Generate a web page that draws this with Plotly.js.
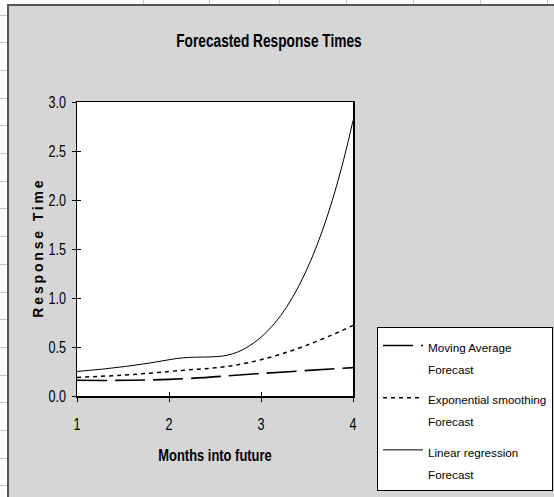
<!DOCTYPE html>
<html>
<head>
<meta charset="utf-8">
<script src="https://cdn.plot.ly/plotly-3.0.1.min.js"></script>
<style>
  html, body { margin: 0; padding: 0; background: #ffffff; }
  #sheet { position: absolute; left: 0; top: 0; width: 554px; height: 497px; overflow: hidden; background: #ffffff; }
  #rows { position: absolute; left: 0; top: 0; width: 7px; height: 497px;
          background: repeating-linear-gradient(to bottom, transparent 0px, transparent 14.5px, #c4c4c4 14.5px, #c4c4c4 15.5px, transparent 15.5px, transparent 27.7px); }
  #cols { position: absolute; left: 0; top: 0; width: 554px; height: 4px; }
  #frame { position: absolute; left: 7px; top: 4px; width: 547px; height: 493px; background: #d6d6d6;
           border-left: 2px solid #555555; border-top: 2px solid #555555; box-sizing: border-box; }
  #chart { position: absolute; left: 9px; top: 6px; width: 545px; height: 491px; }
</style>
</head>
<body>
<div id="sheet">
  <div id="rows"></div>
  <div id="cols"></div>
  <div id="frame"></div>
  <div id="chart"></div>
</div>
<script>
// spreadsheet column gridlines peeking above the chart
var colLines = [143, 209, 279, 346, 413, 480, 547];
var cols = document.getElementById('cols');
colLines.forEach(function (cx) {
  var d = document.createElement('div');
  d.style.cssText = 'position:absolute;top:0;width:1px;height:4px;background:#c4c4c4;left:' + cx + 'px';
  cols.appendChild(d);
});

// ---- data ----
var months = [1, 2, 3, 4];
var movingAverage = [0.16, 0.17, 0.23, 0.29];
var expSmoothing = [0.19, 0.25, 0.37, 0.72];
var linearRegression = [0.25, 0.37, 0.60, 2.81];
var xTicks = [1, 2, 3, 4];
var yTicks = [0, 0.5, 1, 1.5, 2, 2.5, 3];
var yTickText = ['0.0', '0.5', '1.0', '1.5', '2.0', '2.5', '3.0'];
var seriesNames = ['Moving Average<br>Forecast', 'Exponential smoothing<br>Forecast', 'Linear regression<br>Forecast'];

var sans = 'Liberation Sans, Arial, sans-serif';
var gray = '#d6d6d6';

// legend labels: glyphs at 11.7px while the legend line pitch follows the 17px legend font
function legendLabel(name) {
  return name.split('<br>').map(function (s) {
    return '<span style="font-size:11.7px">' + s + '</span>';
  }).join('<br>');
}

var traces = [
  { x: months, y: movingAverage, name: legendLabel(seriesNames[0]), mode: 'lines', legendgroup: 'a',
    line: { color: '#000000', width: 1.6, dash: '30px,8px', shape: 'spline', smoothing: 1.3 } },
  { x: months, y: expSmoothing, name: legendLabel(seriesNames[1]), mode: 'lines', legendgroup: 'b',
    line: { color: '#000000', width: 1.5, dash: '4px,4px', shape: 'spline', smoothing: 1.3 } },
  { x: months, y: linearRegression, name: legendLabel(seriesNames[2]), mode: 'lines', legendgroup: 'c',
    xaxis: 'x2', yaxis: 'y2',
    line: { color: '#000000', width: 1, shape: 'spline', smoothing: 1.3 } }
];

var axisCommon = {
  ticks: 'outside', ticklen: 4, tickwidth: 1, tickcolor: '#000000',
  showline: true, linecolor: '#000000', linewidth: 1.5, mirror: true,
  showgrid: false, zeroline: false,
  tickfont: { family: sans, size: 17, color: '#000000' }
};

var layout = {
  width: 545, height: 491,
  margin: { l: 68, r: 201, t: 96, b: 101, pad: 0, autoexpand: false },
  paper_bgcolor: gray,
  plot_bgcolor: '#ffffff',
  showlegend: true,
  title: { text: 'Forecasted Response Times', font: { family: sans, size: 18.5, color: '#000000', weight: 'bold' },
           x: 0.477, xref: 'container', xanchor: 'center', y: 0.9287, yref: 'container', yanchor: 'middle' },
  xaxis: Object.assign({}, axisCommon, {
    range: [1, 4], tickvals: xTicks, ticktext: xTicks.map(String), ticklabelstandoff: 8,
    title: { text: 'Months into future', standoff: 16, font: { family: sans, size: 17, color: '#000000', weight: 'bold' } }
  }),
  yaxis: Object.assign({}, axisCommon, {
    range: [0, 3], tickvals: yTicks, ticktext: yTickText, ticklabelstandoff: 2,
    title: { text: 'Response Time', font: { family: sans, size: 14, color: '#000000', weight: 'bold' } }
  }),
  xaxis2: {
    overlaying: 'x', anchor: 'y2', side: 'bottom', range: [1, 4], tickvals: xTicks,
    ticks: 'inside', ticklen: 4, tickwidth: 1, tickcolor: '#000000',
    showticklabels: false, showline: false, showgrid: false, zeroline: false
  },
  yaxis2: {
    overlaying: 'y', anchor: 'x2', side: 'left', range: [0, 3], tickvals: yTicks,
    ticks: 'inside', ticklen: 4, tickwidth: 1, tickcolor: '#000000',
    showticklabels: false, showline: false, showgrid: false, zeroline: false
  },
  legend: {
    x: 1.087, xanchor: 'left', y: 0.235, yanchor: 'top', valign: 'top',
    bgcolor: '#ffffff', bordercolor: '#000000', borderwidth: 1,
    font: { family: sans, size: 17, color: '#000000' },
    traceorder: 'grouped', tracegroupgap: 5, itemwidth: 40
  }
};

Plotly.newPlot('chart', traces, layout, { staticPlot: true, displayModeBar: false }).then(function (gd) {
  // render text narrow, like the condensed face of the original
  function squeeze(sel, ratio, mode) {
    gd.querySelectorAll(sel).forEach(function (t) {
      var w = t.getComputedTextLength();
      if (w > 0) {
        t.setAttribute('textLength', (w * ratio).toFixed(1));
        t.setAttribute('lengthAdjust', mode || 'spacingAndGlyphs');
      }
    });
  }
  squeeze('.gtitle', 0.74);
  squeeze('.xtick text', 0.74);
  squeeze('.ytick text', 0.74);
  squeeze('.xtitle', 0.76);
  squeeze('.ytitle', 1.33, 'spacing');
  var yt = gd.querySelector('.g-ytitle');
  if (yt) { yt.setAttribute('transform', 'translate(4,0)'); }
});
</script>
</body>
</html>
